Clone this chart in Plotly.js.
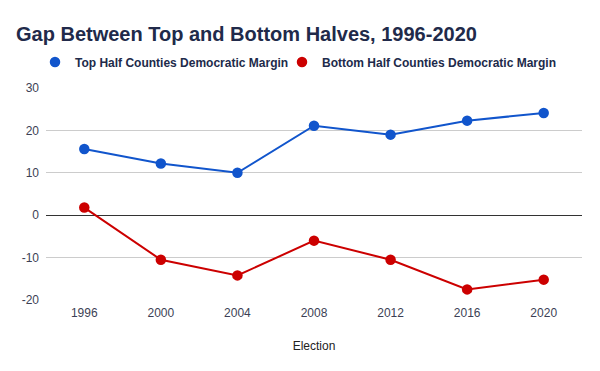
<!DOCTYPE html>
<html>
<head>
<meta charset="utf-8">
<script src="https://cdn.plot.ly/plotly-3.0.1.min.js"></script>
<style>html,body{margin:0;padding:0;background:#fff}#chart{width:600px;height:371px}</style>
</head>
<body>
<div id="chart"></div>
<script>
const elections = ["1996", "2000", "2004", "2008", "2012", "2016", "2020"];
const topHalf = [15.6, 12.2, 10.0, 21.1, 19.0, 22.3, 24.1];
const bottomHalf = [1.8, -10.5, -14.2, -6.0, -10.5, -17.5, -15.2];
const yTicks = [-20, -10, 0, 10, 20, 30];
const seriesNames = ["Top Half Counties Democratic Margin", "Bottom Half Counties Democratic Margin"];

const blue = "#1155cc", red = "#cc0000";
const FONT = "Liberation Sans, Arial, sans-serif";

const traces = [
  {x: elections, y: topHalf, type: "scatter", mode: "lines", line: {color: blue, width: 2}, showlegend: false, hoverinfo: "skip"},
  {x: elections, y: bottomHalf, type: "scatter", mode: "lines", line: {color: red, width: 2}, showlegend: false, hoverinfo: "skip"},
  {x: elections, y: topHalf, type: "scatter", mode: "markers", name: seriesNames[0], legend: "legend", marker: {color: blue, size: 10.5}},
  {x: elections, y: bottomHalf, type: "scatter", mode: "markers", name: seriesNames[1], legend: "legend2", marker: {color: red, size: 10.5}}
];

const legendFont = {family: FONT, size: 12, color: "#212a4a", weight: "bold"};
function legendAt(px) {
  return {
    orientation: "h", x: px/600, xref: "container", xanchor: "left",
    y: 1 - 62/371, yref: "container", yanchor: "middle",
    font: legendFont, itemclick: false, bgcolor: "rgba(0,0,0,0)"
  };
}

const layout = {
  width: 600, height: 371,
  margin: {l: 46, r: 18, t: 88, b: 71},
  paper_bgcolor: "#fff", plot_bgcolor: "#fff",
  font: {family: FONT, size: 12, color: "#3c3f55"},
  title: {
    text: "<b>Gap Between Top and Bottom Halves, 1996-2020</b>",
    font: {family: FONT, size: 20, color: "#212a4a"},
    x: 16/600, xref: "container", xanchor: "left",
    y: 1 - 33.5/371, yref: "container", yanchor: "middle"
  },
  legend: legendAt(35),
  legend2: legendAt(282),
  xaxis: {
    type: "category", range: [-0.5, 6.5],
    showgrid: false, zeroline: false, showline: false,
    ticks: "", ticklabelstandoff: 4,
    tickfont: {family: FONT, size: 12, color: "#3c3f55"},
    title: {text: "Election", font: {family: FONT, size: 12, color: "#222"}, standoff: 22}
  },
  yaxis: {
    range: [-20, 30], tickvals: yTicks, ticktext: yTicks.map(String),
    showgrid: true, gridcolor: "#cccccc", gridwidth: 1,
    zeroline: true, zerolinecolor: "#333333", zerolinewidth: 1,
    showline: false, ticks: "", ticklabelstandoff: 6,
    tickfont: {family: FONT, size: 12, color: "#3c3f55"}
  },
  showlegend: true
};

Plotly.newPlot("chart", traces, layout, {displayModeBar: false, staticPlot: true});
</script>
</body>
</html>
